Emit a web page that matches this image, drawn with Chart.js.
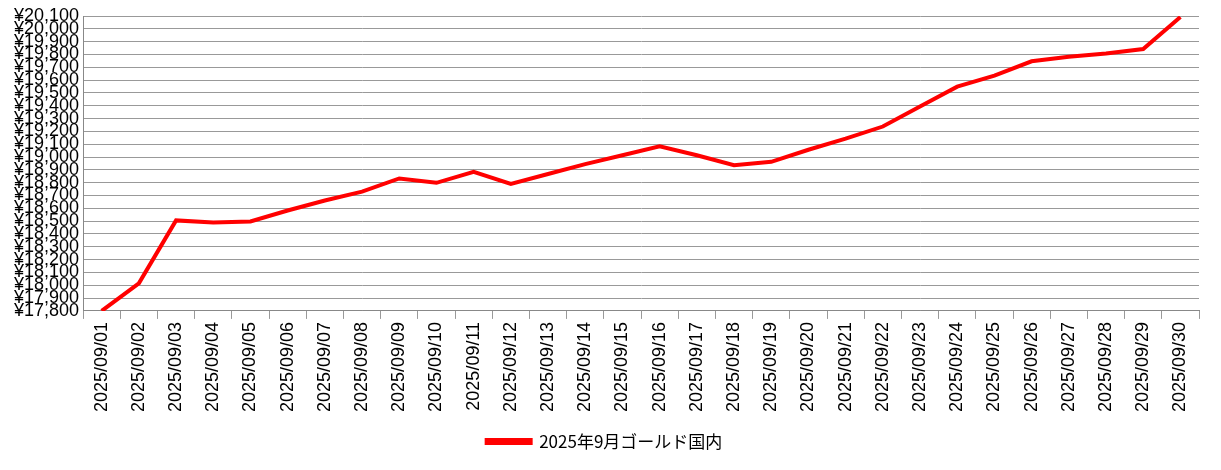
<!DOCTYPE html>
<html>
<head>
<meta charset="utf-8">
<script src="https://cdn.jsdelivr.net/npm/chart.js@4"></script>
<style>
body { margin: 0; background: #fff; }
#wrap { width: 1221px; height: 470px; }
</style>
</head>
<body>
<div id="wrap"><canvas id="chart"></canvas></div>
<script>
const dates = Array.from({length: 30}, (_, i) => '2025/09/' + String(i + 1).padStart(2, '0'));
const prices = [17800, 18015, 18506, 18489, 18497, 18583, 18661, 18730, 18833, 18799,
    18885, 18790, 18868, 18945, 19014, 19083, 19014, 18937, 18963, 19057,
    19143, 19238, 19394, 19549, 19635, 19747, 19782, 19807, 19842, 20092];
const seriesName = '2025年9月ゴールド国内';

new Chart(document.getElementById('chart'), {
    type: 'line',
    data: {
        labels: dates,
        datasets: [{
            label: seriesName,
            data: prices,
            borderColor: '#ff0000',
            backgroundColor: '#ff0000',
            borderWidth: 4,
            pointRadius: 0,
            tension: 0
        }]
    },
    options: {
        responsive: true,
        maintainAspectRatio: false,
        animation: false,
        layout: { padding: { left: 10, right: 22, top: 16, bottom: 10 } },
        plugins: {
            legend: {
                position: 'bottom',
                labels: {
                    font: { family: 'Noto Sans CJK JP', size: 17 },
                    color: '#000',
                    boxWidth: 44,
                    boxHeight: 3,
                    padding: 18
                }
            }
        },
        scales: {
            x: {
                offset: true,
                grid: { color: '#999', offset: true, drawOnChartArea: false, tickLength: 8 },
                border: { color: '#888' },
                ticks: {
                    color: '#000',
                    font: { family: 'Liberation Sans', size: 18 },
                    maxRotation: 90,
                    minRotation: 90,
                    autoSkip: false
                }
            },
            y: {
                min: 17800,
                max: 20100,
                grid: { color: '#999', drawTicks: false },
                border: { color: '#888' },
                ticks: {
                    stepSize: 100,
                    autoSkip: false,
                    color: '#000',
                    padding: 4,
                    font: { family: 'Liberation Sans', size: 18 },
                    callback: v => '¥' + v.toLocaleString('en-US')
                }
            }
        }
    }
});
</script>
</body>
</html>
